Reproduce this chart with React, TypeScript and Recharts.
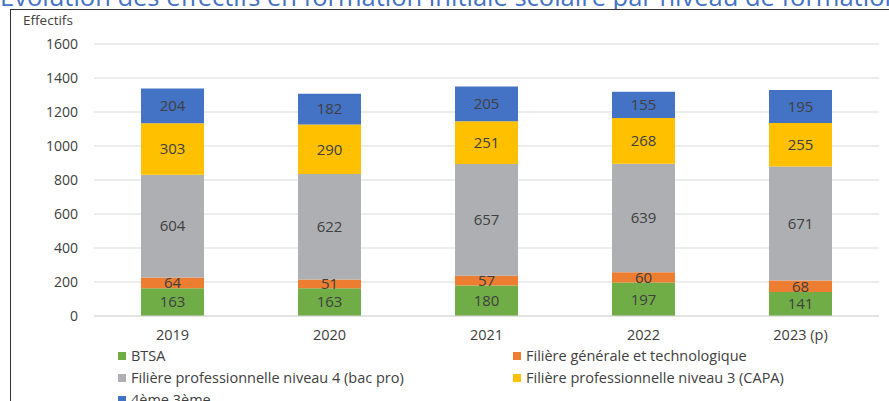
import { BarChart, Bar, XAxis, YAxis, CartesianGrid, Legend, LabelList } from 'recharts';

const years = ['2019', '2020', '2021', '2022', '2023 (p)'];
const btsa = [163, 163, 180, 197, 141];
const generale = [64, 51, 57, 60, 68];
const pro4 = [604, 622, 657, 639, 671];
const pro3 = [303, 290, 251, 268, 255];
const quatrieme = [204, 182, 205, 155, 195];
const yTicks = [0, 200, 400, 600, 800, 1000, 1200, 1400, 1600];

const series = [
  { key: 'btsa', name: 'BTSA', color: '#70AD47' },
  { key: 'generale', name: 'Filière générale et technologique', color: '#ED7D31' },
  { key: 'pro4', name: 'Filière professionnelle niveau 4 (bac pro)', color: '#AEAFB2' },
  { key: 'pro3', name: 'Filière professionnelle niveau 3 (CAPA)', color: '#FFC000' },
  { key: 'quatrieme', name: '4ème 3ème', color: '#4472C4' },
];

const data = years.map((year, i) => ({
  year,
  btsa: btsa[i],
  generale: generale[i],
  pro4: pro4[i],
  pro3: pro3[i],
  quatrieme: quatrieme[i],
}));

const font = '"Open Sans", "Noto Sans", sans-serif';

// legend wrapper already sits at margin.left (34px)
const LegendBox = () => (
  <div
    style={{
      display: 'grid',
      gridTemplateColumns: '395px 380px',
      rowGap: 3,
      paddingLeft: 84,
      fontFamily: font,
      fontSize: 14.5,
      color: '#404040',
      lineHeight: '19px',
      whiteSpace: 'nowrap',
    }}
  >
    {series.map((s) => (
      <div key={s.key} style={{ display: 'flex', alignItems: 'center' }}>
        <span style={{ width: 8, height: 8, background: s.color, marginRight: 5 }} />
        {s.name}
      </div>
    ))}
  </div>
);

export default function App() {
  return (
    <div style={{ position: 'absolute', left: 0, top: 0, width: 889, height: 401, overflow: 'hidden', background: '#fff' }}>
      <div
        style={{
          position: 'absolute',
          left: 0,
          top: -21,
          whiteSpace: 'nowrap',
          fontFamily: font,
          fontSize: 25.5,
          color: '#4472C4',
        }}
      >
        Évolution des effectifs en formation initiale scolaire par niveau de formation
      </div>
      <div
        style={{
          position: 'absolute',
          left: 10,
          top: 9,
          width: 900,
          height: 420,
          border: '1.5px solid #333',
          background: '#fff',
        }}
      />
      <div style={{ position: 'absolute', left: 23, top: 11, fontFamily: font, fontSize: 13.5, color: '#404040' }}>
        Effectifs
      </div>
      <BarChart
        width={889}
        height={401}
        data={data}
        margin={{ top: 44, right: 10, left: 34, bottom: 0 }}
        style={{ fontFamily: font }}
      >
        <CartesianGrid vertical={false} stroke='#D9D9D9' />
        <XAxis
          dataKey='year'
          axisLine={{ stroke: '#D9D9D9' }}
          tickLine={false}
          tickMargin={8}
          height={30}
          tick={{ fill: '#404040', fontSize: 14.5 }}
        />
        <YAxis
          domain={[0, 1600]}
          ticks={yTicks}
          axisLine={false}
          tickLine={false}
          tickMargin={10}
          width={60}
          tick={{ fill: '#404040', fontSize: 14 }}
        />
        <Legend verticalAlign='bottom' height={55} content={<LegendBox />} />
        {series.map((s) => (
          <Bar key={s.key} dataKey={s.key} name={s.name} stackId='a' fill={s.color} barSize={63} isAnimationActive={false}>
            <LabelList dataKey={s.key} position='center' fill='#404040' fontSize={15} />
          </Bar>
        ))}
      </BarChart>
    </div>
  );
}
